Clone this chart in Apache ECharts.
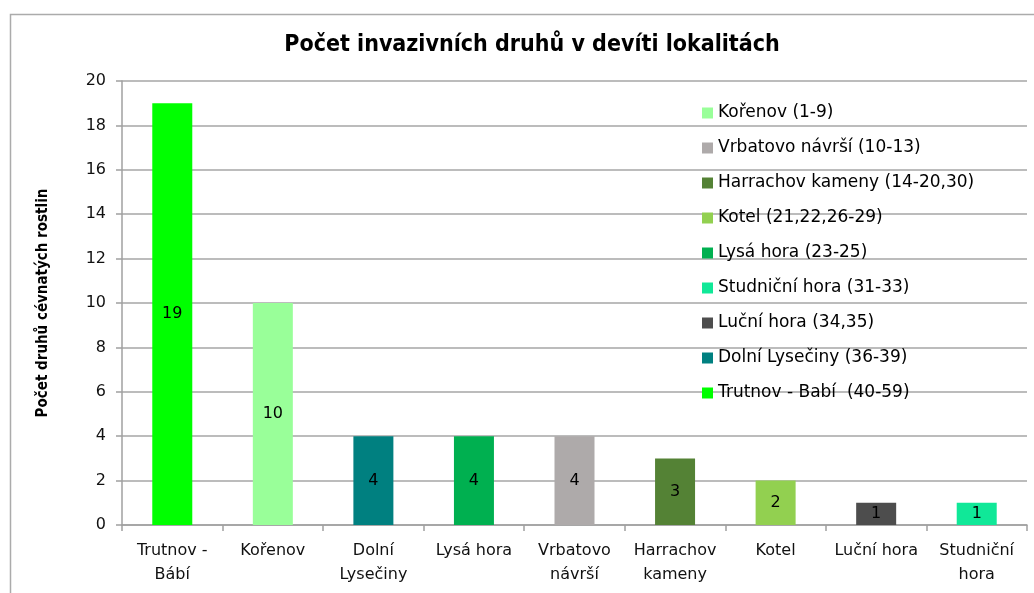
<!DOCTYPE html>
<html>
<head>
<meta charset="utf-8">
<script src="https://cdn.jsdelivr.net/npm/echarts@6/dist/echarts.min.js"></script>
<style>html,body{margin:0;padding:0;background:#fff}#c{width:1034px;height:593px}</style>
</head>
<body>
<div id="c"></div>
<script>
var categories = ['Trutnov -\nBábí', 'Kořenov', 'Dolní\nLysečiny', 'Lysá hora', 'Vrbatovo\nnávrší', 'Harrachov\nkameny', 'Kotel', 'Luční hora', 'Studniční\nhora'];
var values = [19, 10, 4, 4, 4, 3, 2, 1, 1];
var seriesNames = ['Trutnov - Babí  (40-59)', 'Kořenov (1-9)', 'Dolní Lysečiny (36-39)', 'Lysá hora (23-25)', 'Vrbatovo návrší (10-13)', 'Harrachov kameny (14-20,30)', 'Kotel (21,22,26-29)', 'Luční hora (34,35)', 'Studniční hora (31-33)'];
var colors = ['#00FF00', '#99FF99', '#008080', '#00B050', '#AEAAAA', '#548235', '#92D050', '#4D4D4D', '#10E898'];
var legendOrder = ['Kořenov (1-9)', 'Vrbatovo návrší (10-13)', 'Harrachov kameny (14-20,30)', 'Kotel (21,22,26-29)', 'Lysá hora (23-25)', 'Studniční hora (31-33)', 'Luční hora (34,35)', 'Dolní Lysečiny (36-39)', 'Trutnov - Babí  (40-59)'];
var yTitle = 'Počet druhů cévnatých rostlin';
var chartTitle = 'Počet invazivních druhů v devíti lokalitách';

var series = seriesNames.map(function (name, i) {
  return {
    name: name,
    type: 'bar',
    stack: 'all',
    barWidth: 40,
    itemStyle: { color: colors[i] },
    label: { show: true, position: 'inside', color: '#000', fontFamily: 'DejaVu Sans', fontSize: 16 },
    data: values.map(function (v, j) { return j === i ? v : null; })
  };
});

var chart = echarts.init(document.getElementById('c'), null, { renderer: 'canvas' });
chart.setOption({
  animation: false,
  backgroundColor: '#fff',
  graphic: [{
    type: 'rect', left: 8, top: 12, shape: { width: 1040, height: 600 },
    style: { fill: 'none', stroke: '#ABABAB', lineWidth: 1.5 }, silent: true, z: -1
  }],
  title: {
    text: chartTitle, left: 527, top: 29, textAlign: 'center',
    textStyle: { fontFamily: '"DejaVu Sans Condensed", "Liberation Sans"', fontWeight: 'bold', fontSize: 23, color: '#000' }
  },
  legend: {
    data: legendOrder, orient: 'vertical', left: 697, top: 98,
    itemWidth: 11, itemHeight: 11, itemGap: 15, icon: 'rect',
    textStyle: { fontFamily: 'DejaVu Sans', fontSize: 17, color: '#000', lineHeight: 20 }
  },
  grid: { left: 122, right: 7, top: 81, bottom: 68, containLabel: false },
  xAxis: {
    type: 'category', data: categories,
    axisLine: { lineStyle: { color: '#A0A0A0', width: 1.5 } },
    axisTick: { show: true, length: 6, lineStyle: { color: '#A0A0A0', width: 1.5 } },
    axisLabel: { interval: 0, color: '#111', fontFamily: 'DejaVu Sans', fontSize: 16, lineHeight: 24, margin: 14 }
  },
  yAxis: {
    type: 'value', min: 0, max: 20, interval: 2,
    name: yTitle, nameLocation: 'middle', nameRotate: 90, nameGap: 71,
    nameTextStyle: { fontFamily: '"DejaVu Sans Condensed", "Liberation Sans"', fontWeight: 'bold', fontSize: 15, color: '#000' },
    axisLine: { show: true, lineStyle: { color: '#A0A0A0', width: 1.5 } },
    axisTick: { show: true, length: 6, lineStyle: { color: '#A0A0A0', width: 1.5 } },
    axisLabel: { color: '#111', fontFamily: 'DejaVu Sans', fontSize: 16, margin: 16 },
    splitLine: { lineStyle: { color: '#A6A6A6', width: 1.5 } }
  },
  series: series
});
</script>
</body>
</html>
